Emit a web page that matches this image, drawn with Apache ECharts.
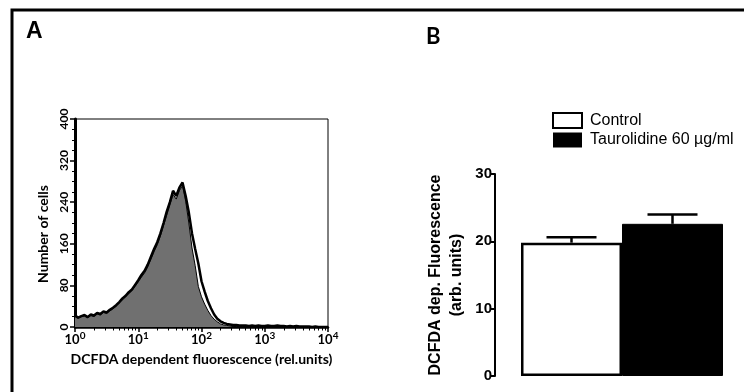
<!DOCTYPE html>
<html>
<head>
<meta charset="utf-8">
<script src="https://cdn.jsdelivr.net/npm/echarts@6/dist/echarts.min.js"></script>
<style>
  html, body { margin: 0; padding: 0; background: #fff; }
  #chart { width: 744px; height: 392px; }
</style>
</head>
<body>
<div id="chart"></div>
<script>
// histogram bins, log10 of fluorescence (10^0 .. 10^4)
var logBins = [
  0.00, 0.05, 0.10, 0.15, 0.20, 0.25, 0.30, 0.35, 0.40, 0.45,
  0.50, 0.55, 0.60, 0.65, 0.70, 0.75, 0.80, 0.85, 0.90, 0.95,
  1.00, 1.05, 1.10, 1.15, 1.20, 1.25, 1.30, 1.35, 1.40, 1.45,
  1.50, 1.55, 1.60, 1.65, 1.70, 1.75, 1.80, 1.85, 1.90, 1.95,
  2.00, 2.05, 2.10, 2.15, 2.20, 2.25, 2.30, 2.35, 2.40, 2.45,
  2.50, 2.55, 2.60, 2.65, 2.70, 2.75, 2.80, 2.85, 2.90, 2.95,
  3.00, 3.05, 3.10, 3.15, 3.20, 3.25, 3.30, 3.35, 3.40, 3.45,
  3.50, 3.55, 3.60, 3.65, 3.70, 3.75, 3.80, 3.85, 3.90, 3.95,
  4.00
];
// number of cells, control (grey filled)
var controlCells = [
  20, 17, 20, 21, 18, 22, 20, 25, 23, 28,
  26, 31, 35, 40, 46, 52, 58, 64, 70, 78,
  87, 96, 104, 116, 130, 145, 158, 175, 195, 215,
  235, 255, 246, 262, 272, 242, 200, 152, 118, 78,
  58, 44, 32, 22, 15, 10, 6, 4, 3, 2,
  1, 1, 1, 1, 1, 0, 1, 0, 0, 0,
  0, 0, 0, 0, 0, 0, 0, 0, 0, 0,
  0, 0, 0, 0, 0, 0, 0, 0, 0, 0,
  0
];
// number of cells, taurolidine (thick black line)
var taurolidineCells = [
  22, 18, 21, 23, 19, 24, 22, 27, 25, 30,
  28, 33, 37, 42, 48, 55, 60, 67, 72, 81,
  90, 100, 108, 120, 135, 150, 163, 180, 200, 222,
  240, 262, 252, 268, 278, 252, 220, 180, 150, 122,
  88, 68, 50, 36, 24, 16, 11, 8, 6, 5,
  4, 4, 3, 3, 3, 2, 3, 2, 3, 2,
  2, 3, 2, 2, 3, 2, 2, 1, 2, 1,
  2, 1, 1, 1, 1, 0, 1, 0, 0, 0,
  0
];

// panel B
var groups = ['Control', 'Taurolidine 60 µg/ml'];
var groupMeans = [19.8, 22.6];
var groupErrors = [0.8, 1.4];

var histControl = [];
var histTauro = [];
for (var i = 0; i < logBins.length; i++) {
  histControl.push([logBins[i], controlCells[i]]);
  histTauro.push([logBins[i], taurolidineCells[i]]);
}

// log minor tick positions (2..9 in each decade)
var minorTicks = [];
for (var d = 0; d < 4; d++) {
  for (var k = 2; k <= 9; k++) minorTicks.push(d + Math.log10(k));
}

var fontA = 'Lato';
var fontB = 'Liberation Sans';

var chart = echarts.init(document.getElementById('chart'), null, {renderer: 'canvas'});
var option = {
  animation: false,
  backgroundColor: '#fff',
  graphic: [
    {type: 'rect', shape: {x: 12, y: 10, width: 800, height: 420},
     style: {fill: 'none', stroke: '#000', lineWidth: 3}, silent: true},
    {type: 'text', left: 26, top: 20,
     style: {text: 'A', font: 'bold 23px "Liberation Sans"', fill: '#000'}},
    {type: 'text', left: 426, top: 26,
     style: {text: 'B', font: 'bold 22px ' + fontA, fill: '#000'}}
  ],
  legend: {
    data: [
      {name: groups[0], itemStyle: {color: '#fff', borderColor: '#000', borderWidth: 2}},
      {name: groups[1], itemStyle: {color: '#000', borderColor: '#000', borderWidth: 0}}
    ],
    orient: 'vertical',
    left: 547,
    top: 107,
    icon: 'rect',
    itemWidth: 29,
    itemHeight: 15,
    itemGap: 3,
    textStyle: {fontFamily: fontB, fontSize: 16, color: '#000', padding: [0, 0, 0, 3]}
  },
  grid: [
    {left: 75, top: 119, width: 253, height: 208, show: true, borderColor: '#000', borderWidth: 1},
    {left: 521, top: 174, width: 202, height: 202}
  ],
  xAxis: [
    {
      gridIndex: 0, type: 'value', min: 0, max: 4, interval: 1,
      name: 'DCFDA dependent fluorescence (rel.units)',
      nameLocation: 'middle', nameGap: 25,
      nameTextStyle: {fontFamily: fontA, fontWeight: 'bold', fontSize: 14, color: '#000'},
      axisLine: {lineStyle: {color: '#000', width: 2.5}},
      axisTick: {length: 5, lineStyle: {color: '#000', width: 1.5}},
      splitLine: {show: false},
      axisLabel: {
        margin: 4,
        formatter: function (v) { return '{b|10}{s|' + v + '}'; },
        rich: {
          b: {fontFamily: fontA, fontWeight: 'bold', fontSize: 13, color: '#000'},
          s: {fontFamily: fontA, fontWeight: 'bold', fontSize: 10, color: '#000', padding: [0, 0, 7, 0]}
        }
      }
    },
    {
      gridIndex: 0, type: 'value', min: 0, max: 4, position: 'bottom',
      axisLine: {show: false},
      axisLabel: {show: false},
      splitLine: {show: false},
      axisTick: {show: true, length: 3.5, customValues: minorTicks, lineStyle: {color: '#000', width: 1}}
    },
    {
      gridIndex: 1, type: 'category', data: groups,
      axisLine: {show: false}, axisTick: {show: false}, axisLabel: {show: false}
    }
  ],
  yAxis: [
    {
      gridIndex: 0, type: 'value', min: 0, max: 400, interval: 80,
      name: 'Number of cells', nameLocation: 'middle', nameGap: 25,
      nameTextStyle: {fontFamily: fontA, fontWeight: 'bold', fontSize: 14, color: '#000', padding: [0, 22, 0, 0]},
      axisLine: {show: true, lineStyle: {color: '#000', width: 3}},
      axisTick: {show: true, length: 5, lineStyle: {color: '#000', width: 1.5}},
      minorTick: {show: true, splitNumber: 4, length: 3, lineStyle: {color: '#000', width: 1}},
      splitLine: {show: false},
      axisLabel: {rotate: 90, margin: 5, fontFamily: fontA, fontWeight: 'bold', fontSize: 12, color: '#000'}
    },
    {
      gridIndex: 1, type: 'value', min: 0, max: 30, interval: 10, offset: 26,
      name: 'DCFDA dep. Fluorescence\n(arb. units)', nameLocation: 'middle', nameGap: 28,
      nameTextStyle: {fontFamily: fontB, fontWeight: 'bold', fontSize: 16, lineHeight: 21, color: '#000'},
      axisLine: {show: true, lineStyle: {color: '#000', width: 2}},
      axisTick: {show: true, length: 5, lineStyle: {color: '#000', width: 2}},
      splitLine: {show: false},
      axisLabel: {margin: 3, fontFamily: fontB, fontWeight: 'bold', fontSize: 15, color: '#000'}
    }
  ],
  series: [
    {
      name: 'control-hist', type: 'line', xAxisIndex: 0, yAxisIndex: 0,
      data: histControl, showSymbol: false, z: 2,
      lineStyle: {color: '#000', width: 1},
      areaStyle: {color: '#707070', opacity: 1}
    },
    {
      name: 'tauro-hist', type: 'line', xAxisIndex: 0, yAxisIndex: 0,
      data: histTauro, showSymbol: false, z: 3,
      lineStyle: {color: '#000', width: 2.5}
    },
    {
      name: groups[0], type: 'bar', xAxisIndex: 2, yAxisIndex: 1,
      data: [groupMeans[0], '-'], barWidth: '100%', barGap: '-100%',
      itemStyle: {color: '#fff', borderColor: '#000', borderWidth: 2.5}
    },
    {
      name: groups[1], type: 'bar', xAxisIndex: 2, yAxisIndex: 1,
      data: ['-', groupMeans[1]], barWidth: '100%', barGap: '-100%',
      itemStyle: {color: '#000', borderColor: '#000', borderWidth: 1}
    },
    {
      name: 'sem', type: 'custom', xAxisIndex: 2, yAxisIndex: 1, z: 5,
      data: [[0, groupMeans[0], groupErrors[0]], [1, groupMeans[1], groupErrors[1]]],
      renderItem: function (params, api) {
        var base = api.coord([api.value(0), api.value(1)]);
        var top = api.coord([api.value(0), api.value(1) + api.value(2)]);
        var half = 25;
        var st = {stroke: '#000', lineWidth: 2.5};
        return {
          type: 'group',
          children: [
            {type: 'line', shape: {x1: base[0], y1: base[1], x2: top[0], y2: top[1]}, style: st},
            {type: 'line', shape: {x1: top[0] - half, y1: top[1], x2: top[0] + half, y2: top[1]}, style: st}
          ]
        };
      }
    }
  ]
};
chart.setOption(option);
</script>
</body>
</html>
